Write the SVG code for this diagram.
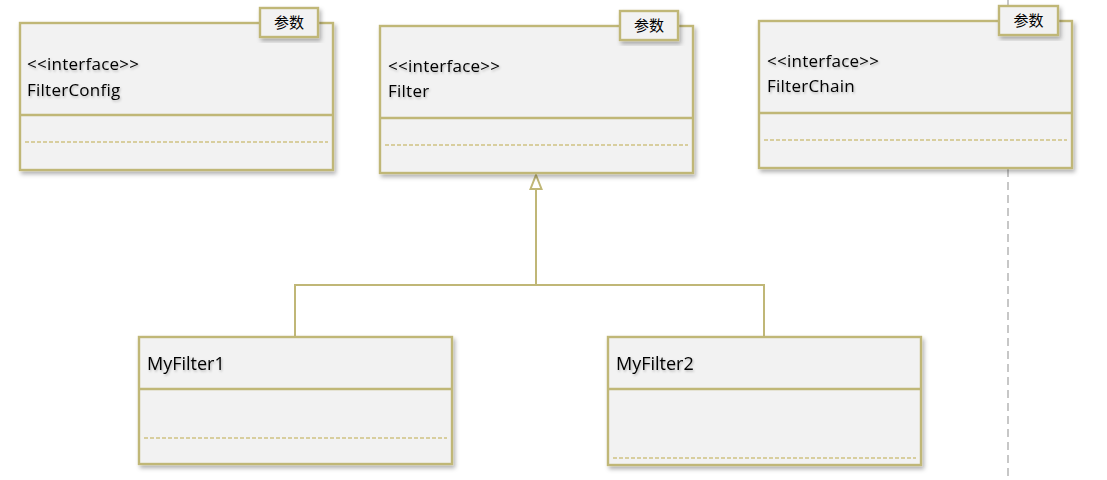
<svg xmlns="http://www.w3.org/2000/svg" width="1107" height="480" viewBox="0 0 1107 480">
<style>
.box{fill:#f2f2f2;stroke:#c0b777;stroke-width:2.4;filter:url(#sh)}
.div{stroke:#c0b777;stroke-width:2.4;fill:none}
.dash{stroke:#cfc283;stroke-width:1.4;stroke-dasharray:4 2;fill:none}
.tag{fill:#f2f2f2;stroke:#c0b777;stroke-width:2.4;filter:url(#sh)}
.t{font-family:"Open Sans","Liberation Sans",sans-serif;font-size:17px;letter-spacing:0.25px;fill:#000;filter:url(#tsh)}
.n{font-family:"Open Sans","Liberation Sans",sans-serif;font-size:18px;fill:#000;filter:url(#tsh)}
.cj{font-family:"Noto Sans CJK SC",sans-serif;font-size:15px;fill:#000;text-anchor:middle}
.con{stroke:#c0b777;stroke-width:2;fill:none}
</style>
<defs>
<filter id="sh" x="-10%" y="-10%" width="125%" height="130%">
<feDropShadow dx="2" dy="3" stdDeviation="2" flood-color="#000" flood-opacity="0.3"/>
</filter>
<filter id="tsh" x="-10%" y="-30%" width="130%" height="170%">
<feDropShadow dx="1" dy="1.5" stdDeviation="1.2" flood-color="#000" flood-opacity="0.25"/>
</filter>
</defs>
<rect width="1107" height="480" fill="#fff"/>
<line x1="1008" y1="0" x2="1008" y2="480" stroke="#aaa" stroke-width="1.3" stroke-dasharray="8 5"/>
<g id="connectors">
<path class="con" d="M295 337 V285 H764 V337"/>
<path class="con" d="M536 285 V189"/>
<path d="M536 175 L541.5 189 L530.5 189 Z" fill="#fff" stroke="#c0b777" stroke-width="2"/>
</g>
<g id="FilterConfig">
<rect class="box" x="20" y="23" width="313" height="147"/>
<line class="div" x1="20" y1="115" x2="333" y2="115"/>
<line class="dash" x1="25" y1="142" x2="328" y2="142"/>
<text class="t" x="27" y="70">&lt;&lt;interface&gt;&gt;</text>
<text class="t" x="27" y="96">FilterConfig</text>
<rect class="tag" x="260" y="8" width="58" height="29"/>
<text class="cj" x="289" y="28">参数</text>
</g>
<g id="Filter">
<rect class="box" x="380" y="26" width="313" height="147"/>
<line class="div" x1="380" y1="118" x2="693" y2="118"/>
<line class="dash" x1="385" y1="145" x2="688" y2="145"/>
<text class="t" x="388" y="72">&lt;&lt;interface&gt;&gt;</text>
<text class="t" x="388" y="97">Filter</text>
<rect class="tag" x="620" y="11" width="58" height="29"/>
<text class="cj" x="649" y="31">参数</text>
</g>
<g id="FilterChain">
<rect class="box" x="759" y="21" width="313" height="147"/>
<line class="div" x1="759" y1="113" x2="1072" y2="113"/>
<line class="dash" x1="764" y1="140" x2="1067" y2="140"/>
<text class="t" x="767" y="67">&lt;&lt;interface&gt;&gt;</text>
<text class="t" x="767" y="92">FilterChain</text>
<rect class="tag" x="999" y="6" width="59" height="29"/>
<text class="cj" x="1028.5" y="26">参数</text>
</g>
<g id="MyFilter1">
<rect class="box" x="139" y="337" width="313" height="127"/>
<line class="div" x1="139" y1="389" x2="452" y2="389"/>
<line class="dash" x1="144" y1="438" x2="447" y2="438"/>
<text class="n" x="147" y="370">MyFilter1</text>
</g>
<g id="MyFilter2">
<rect class="box" x="608" y="337" width="313" height="128"/>
<line class="div" x1="608" y1="389" x2="921" y2="389"/>
<line class="dash" x1="613" y1="458" x2="916" y2="458"/>
<text class="n" x="616" y="370">MyFilter2</text>
</g>
</svg>
